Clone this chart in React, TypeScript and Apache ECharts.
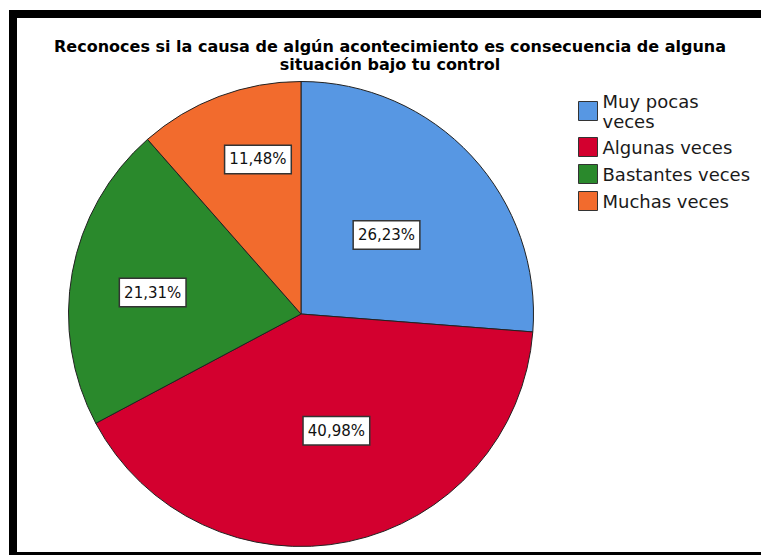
import React, { useEffect, useRef } from "react";
import * as echarts from "echarts";

const titleText = "Reconoces si la causa de algún acontecimiento es consecuencia de alguna\nsituación bajo tu control";
const categories = ["Muy pocas veces", "Algunas veces", "Bastantes veces", "Muchas veces"];
const counts = [16, 25, 13, 7];
const colors = ["#5797E3", "#D3002F", "#2A892C", "#F26B2D"];
// label nudges (px) relative to the default inside position
const labelOffsets = [[-2, 2], [11, 0], [-31, 0], [-1, -43]];

const FONT = "DejaVu Sans";

export default function App() {
  const ref = useRef<HTMLDivElement>(null);
  useEffect(() => {
    document.body.style.margin = "0";
    document.body.style.overflow = "hidden";
    document.documentElement.style.overflow = "hidden";
    if (!ref.current) return;
    const chart = echarts.init(ref.current, undefined, { renderer: "svg" });
    chart.setOption({
      animation: false,
      backgroundColor: "#ffffff",
      title: {
        text: titleText,
        left: 390,
        top: 37,
        padding: 0,
        textAlign: "center",
        textStyle: {
          fontFamily: FONT,
          fontSize: 16,
          fontWeight: "bold",
          color: "#000",
          lineHeight: 18,
        },
      },
      legend: {
        orient: "vertical",
        left: 578,
        top: 92,
        padding: 0,
        itemWidth: 19,
        itemHeight: 19,
        itemGap: 7,
        icon: "rect",
        data: categories.map((name, i) =>
          i === 0 ? { name, textStyle: { height: 30 } } : { name }
        ),
        itemStyle: { borderColor: "#333", borderWidth: 1 },
        textStyle: {
          fontFamily: FONT,
          fontSize: 18,
          color: "#1a1a1a",
          width: 150,
          overflow: "break",
          lineHeight: 20,
        },
      },
      series: [
        {
          type: "pie",
          center: [301, 314],
          radius: 232.5,
          startAngle: 90,
          clockwise: true,
          avoidLabelOverlap: false,
          emphasis: { disabled: true },
          itemStyle: { borderColor: "#222", borderWidth: 1 },
          label: {
            show: true,
            position: "inside",
            fontFamily: FONT,
            fontSize: 15,
            lineHeight: 17,
            color: "#111",
            backgroundColor: "#ffffff",
            borderColor: "#333",
            borderWidth: 1.5,
            padding: [5, 4, 5, 4],
            formatter: (p: any) => p.percent.toFixed(2).replace(".", ",") + "%",
          },
          labelLine: { show: false },
          data: categories.map((name, i) => ({
            name,
            value: counts[i],
            itemStyle: { color: colors[i] },
            label: { offset: labelOffsets[i] },
          })),
        },
      ],
    });
    return () => chart.dispose();
  }, []);

  const bar = (s: React.CSSProperties) => (
    <div style={{ position: "absolute", pointerEvents: "none", ...s }} />
  );

  return (
    <div style={{ position: "fixed", left: 0, top: 0, width: 761, height: 555, overflow: "hidden", background: "#fff" }}>
      <div ref={ref} style={{ position: "absolute", left: 0, top: 0, width: 761, height: 555 }} />
      {bar({ left: 9, top: 10, width: 752, height: 8, background: "#000" })}
      {bar({ left: 9, top: 10, width: 8, height: 545, background: "#000" })}
      {bar({ left: 9, top: 552, width: 752, height: 3, background: "#000" })}
    </div>
  );
}
